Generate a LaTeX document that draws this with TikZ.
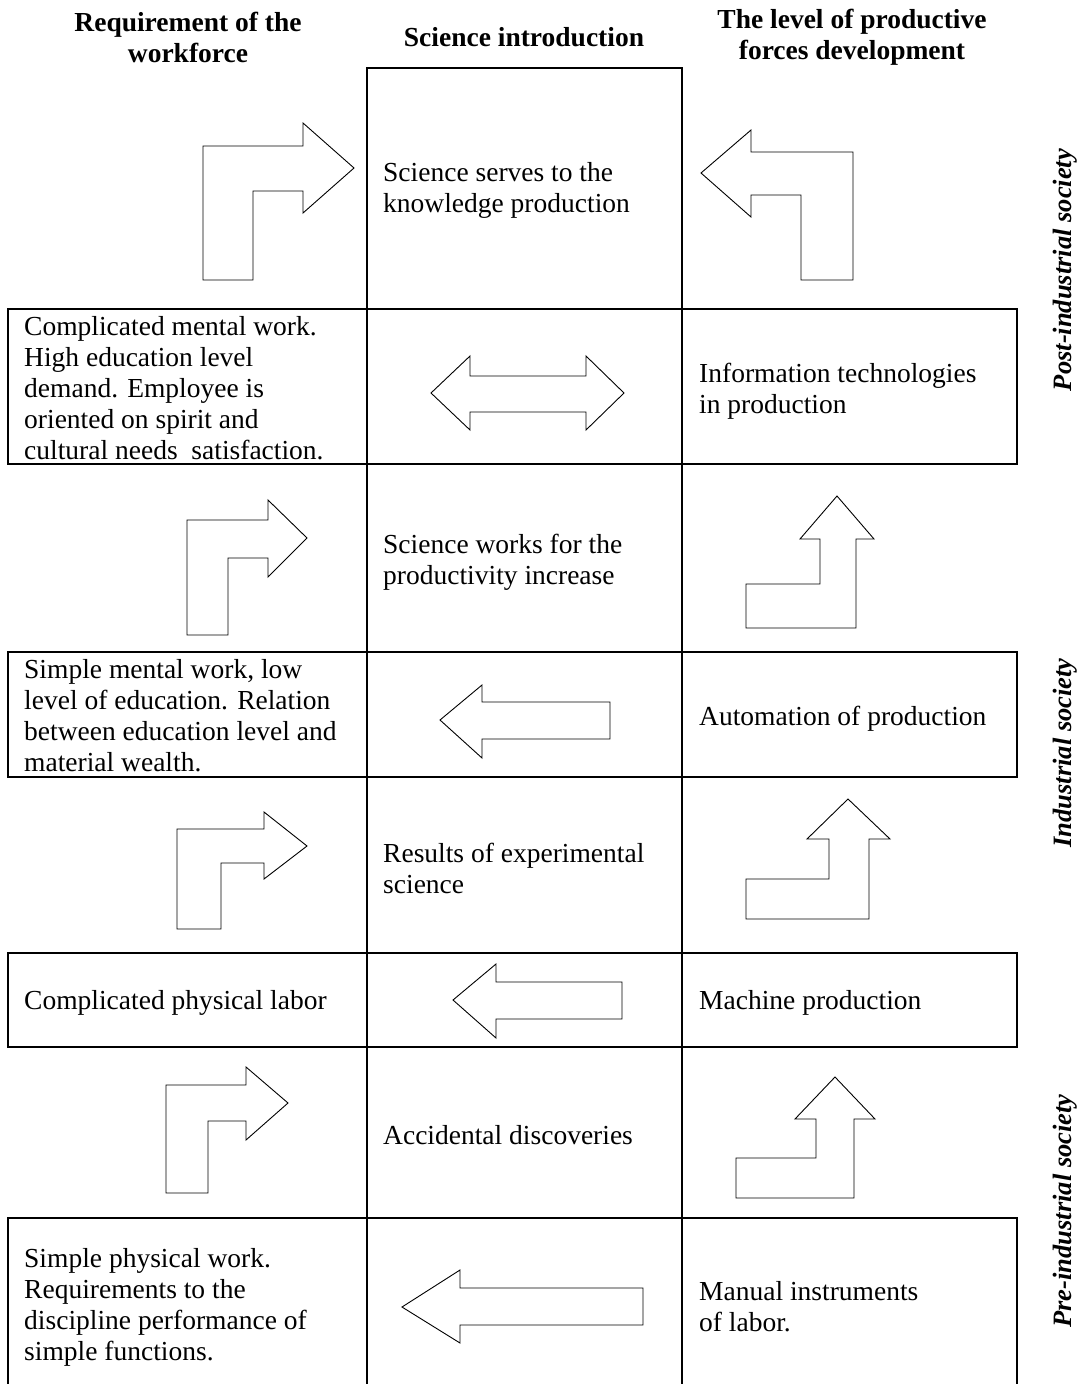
\documentclass[tikz,border=0pt]{standalone}
\usepackage{fontspec}
\setmainfont{Liberation Serif}
\begin{document}
\begin{tikzpicture}[x=1pt,y=-1pt,
  boxline/.style={line width=1.6pt},
  blockarrow/.style={draw=black,fill=white,line width=0.9pt,line join=miter},
  bodytext/.style={inner sep=0pt,align=left,anchor=west,font={\fontsize{27.5}{31}\selectfont}},
  headtext/.style={inner sep=0pt,align=center,font={\fontsize{27.5}{31}\selectfont\bfseries}},
  sidetext/.style={inner sep=0pt,rotate=90,font={\fontsize{26.5}{31}\selectfont\bfseries\itshape}}]
\useasboundingbox (0,0) rectangle (1090,1384);

% ---- grid ----
\draw[boxline] (367,1384) -- (367,68) -- (682,68) -- (682,1384);
\draw[boxline] (8,309) rectangle (1017,464);
\draw[boxline] (8,652) rectangle (1017,777);
\draw[boxline] (8,953) rectangle (1017,1047);
\draw[boxline] (8,1384) -- (8,1218) -- (1017,1218) -- (1017,1384);

% ---- headers ----
\node[headtext] (h1) at (188,37) {Requirement of the\\workforce};
\node[headtext] (h2) at (524,37) {Science introduction};
\node[headtext] (h3) at (852,37) {The level of productive\\forces development};

% ---- side labels ----
\node[sidetext] (s1) at (1065,270) {Post-industrial society};
\node[sidetext] (s2) at (1065,753) {Industrial society};
\node[sidetext] (s3) at (1065,1211) {Pre-industrial society};

% ---- centre column ----
\node[bodytext] (c1) at (383,190) {Science serves to the\\knowledge production};
\node[bodytext] (c2) at (383,562) {Science works for the\\productivity increase};
\node[bodytext] (c3) at (383,868) {Results of experimental\\science};
\node[bodytext] (c4) at (383,1135) {Accidental discoveries};

% ---- right column ----
\node[bodytext] (r1) at (699,391) {Information technologies\\in production};
\node[bodytext] (r2) at (699,719) {Automation of production};
\node[bodytext] (r3) at (699,1003) {Machine production};
\node[bodytext] (r4) at (699,1307) {Manual instruments\\of labor.};

% ---- left column ----
\node[bodytext] (l1) at (24,388) {Complicated mental work.\\High education level\\demand. Employee is\\oriented on spirit and\\cultural needs\ \ satisfaction.};
\node[bodytext] (l2) at (24,716) {Simple mental work, low\\level of education. Relation\\between education level and\\material wealth.};
\node[bodytext] (l3) at (24,1003) {Complicated physical labor};
\node[bodytext] (l4) at (24,1307) {Simple physical work.\\Requirements to the\\discipline performance of\\simple functions.};

% ---- block arrows ----
% region 1
\draw[blockarrow] (203,280) -- (203,146) -- (303,146) -- (303,123) -- (354,168) -- (303,213) -- (303,191) -- (253,191) -- (253,280) -- cycle;
\draw[blockarrow] (853,280) -- (853,152) -- (751,152) -- (751,130) -- (701,173) -- (751,217) -- (751,195) -- (801,195) -- (801,280) -- cycle;
% row 1 double arrow
\draw[blockarrow] (431,393) -- (470,356) -- (470,376) -- (586,376) -- (586,356) -- (624,393) -- (586,430) -- (586,412) -- (470,412) -- (470,430) -- cycle;
% region 2
\draw[blockarrow] (187,635) -- (187,520) -- (268,520) -- (268,500) -- (307,538) -- (268,577) -- (268,558) -- (228,558) -- (228,635) -- cycle;
\draw[blockarrow] (746,628) -- (856,628) -- (856,539) -- (874,539) -- (837,496) -- (800,539) -- (820,539) -- (820,584) -- (746,584) -- cycle;
% row 2
\draw[blockarrow] (440,720) -- (482,685) -- (482,702) -- (610,702) -- (610,739) -- (482,739) -- (482,758) -- cycle;
% region 3
\draw[blockarrow] (177,929) -- (177,829) -- (264,829) -- (264,812) -- (307,846) -- (264,879) -- (264,863) -- (221,863) -- (221,929) -- cycle;
\draw[blockarrow] (746,919) -- (869,919) -- (869,839) -- (890,839) -- (848,799) -- (807,839) -- (829,839) -- (829,879) -- (746,879) -- cycle;
% row 3
\draw[blockarrow] (453,1000) -- (496,964) -- (496,982) -- (622,982) -- (622,1019) -- (496,1019) -- (496,1038) -- cycle;
% region 4
\draw[blockarrow] (166,1193) -- (166,1085) -- (246,1085) -- (246,1067) -- (288,1103) -- (246,1140) -- (246,1121) -- (208,1121) -- (208,1193) -- cycle;
\draw[blockarrow] (736,1198) -- (854,1198) -- (854,1119) -- (875,1119) -- (835,1077) -- (795,1119) -- (816,1119) -- (816,1158) -- (736,1158) -- cycle;
% row 4
\draw[blockarrow] (402,1307) -- (460,1270) -- (460,1288) -- (643,1288) -- (643,1325) -- (460,1325) -- (460,1343) -- cycle;
\end{tikzpicture}
\end{document}
